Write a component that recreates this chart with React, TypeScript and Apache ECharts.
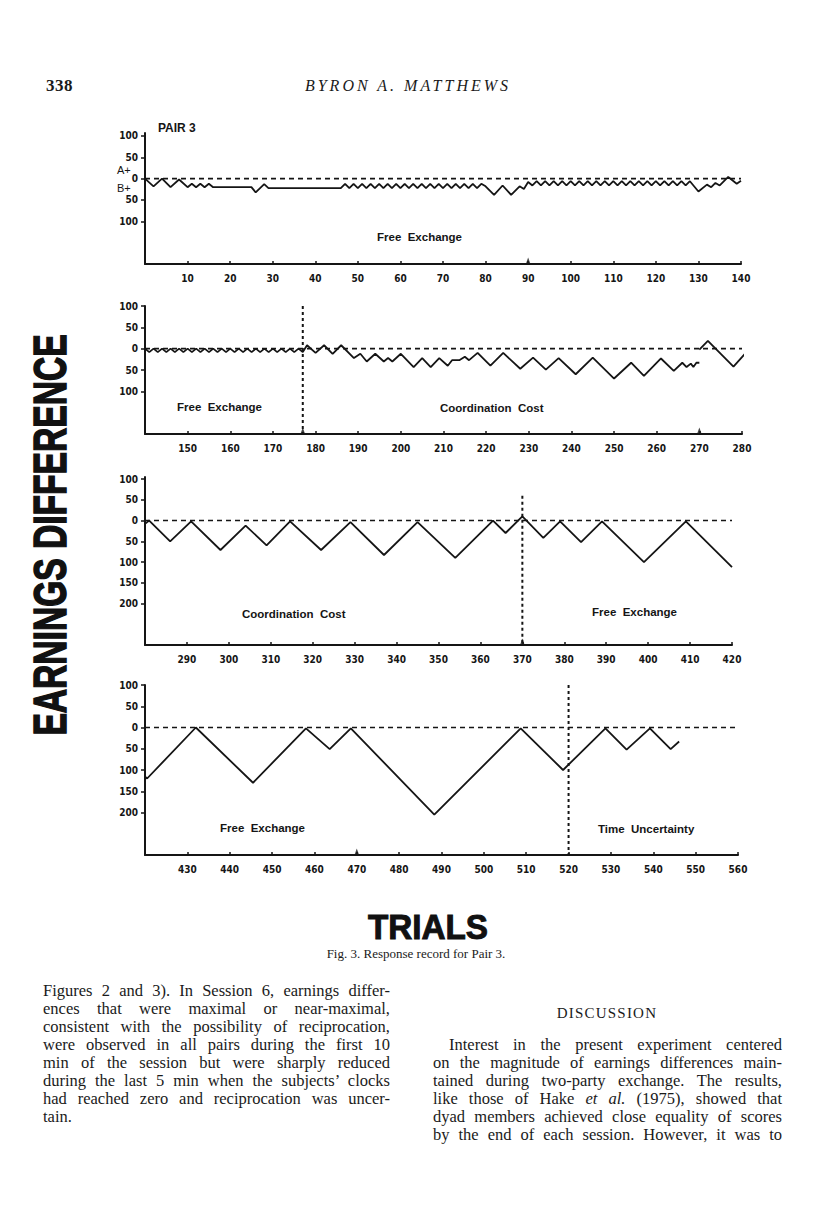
import React, { useEffect, useRef } from "react";
import * as echarts from "echarts";

// ---------- tick labels ----------
const yTicksSmall = [-100, -50, 0, 50, 100];
const yTicksLarge = [-200, -150, -100, -50, 0, 50, 100];
const xTicks1 = [10, 20, 30, 40, 50, 60, 70, 80, 90, 100, 110, 120, 130, 140];
const xTicks2 = [150, 160, 170, 180, 190, 200, 210, 220, 230, 240, 250, 260, 270, 280];
const xTicks3 = [290, 300, 310, 320, 330, 340, 350, 360, 370, 380, 390, 400, 410, 420];
const xTicks4 = [430, 440, 450, 460, 470, 480, 490, 500, 510, 520, 530, 540, 550, 560];

// ---------- earnings difference records (trial, difference; A+ positive, B+ negative) ----------
const trace1: number[][] = [
  [0, 0], [2, -18], [4, 0], [6, -20], [8, -2], [10, -20], [11, -12], [12, -20], [13, -12], [14, -20], [15, -12], [16, -20],
  [25, -20], [26, -32], [28, -13], [29, -22], [46, -22], [47, -12], [48, -22], [49, -12], [50, -22], [51, -12], [52, -22],
  [53, -12], [54, -22], [55, -12], [56, -22], [57, -12], [58, -22], [59, -12], [60, -22], [61, -12], [62, -22], [63, -12],
  [64, -22], [65, -12], [66, -22], [67, -12], [68, -22], [69, -12], [70, -22], [71, -12], [72, -22], [73, -12], [74, -22],
  [75, -12], [76, -22], [77, -12], [78, -22], [79, -12], [80, -18], [82, -38], [84, -16], [86, -38], [88, -18], [89, -24],
  [90, -8], [91, -16], [92, -6], [93, -16], [94, -6], [95, -16], [96, -6], [97, -16], [98, -6], [99, -16], [100, -6],
  [101, -16], [102, -6], [103, -16], [104, -6], [105, -16], [106, -6], [107, -16], [108, -6], [109, -16], [110, -6],
  [111, -16], [112, -6], [113, -16], [114, -6], [115, -16], [116, -6], [117, -16], [118, -6], [119, -16], [120, -6],
  [121, -16], [122, -6], [123, -16], [124, -6], [125, -16], [126, -6], [127, -16], [128, -6], [130, -30], [132, -14],
  [133, -20], [134, -10], [135, -16], [137, 4], [139, -12], [140, -5],
];

const trace2: number[][] = [
  [140, 0], [141, -8], [142, 0], [143, -8], [144, 0], [145, -8], [146, 0], [147, -8], [148, 0], [149, -8], [150, 0],
  [151, -8], [152, 0], [153, -8], [154, 0], [155, -8], [156, 0], [157, -8], [158, 0], [159, -8], [160, 0], [161, -8],
  [162, 0], [163, -8], [164, 0], [165, -8], [166, 0], [167, -8], [168, 0], [169, -8], [170, 0], [171, -8], [172, 0],
  [173, -8], [174, 0], [175, -8], [176, 0], [177, -8], [178, 8], [180, -10], [182, 8], [184, -12], [186, 8], [189, -22],
  [190.5, -12], [192, -30], [194, -12], [196, -30], [197, -22], [198, -30], [200, -12], [203, -43], [205, -22], [207, -43],
  [209, -22], [211, -40], [212, -27], [213.7, -27], [215, -19], [216, -27], [218, -10], [221, -40], [224, -10], [228, -47],
  [231, -21], [234, -49], [237, -22], [241, -60], [245, -21], [250, -70], [254, -33], [257, -64], [261, -23], [264, -52],
  [266, -33], [267, -43], [268, -35], [268.6, -43], [269.3, -33], [270, -33],
];
const trace2End: number[][] = [[270, -2], [272, 18], [278, -42], [280.7, -12]];

const trace3: number[][] = [
  [280, -8], [281, 0], [286, -50], [291, -2], [298, -71], [304, -12], [309, -60], [314.6, -2], [322, -71], [329, -4],
  [337, -83], [345, -4], [354, -90], [363, 0], [366, -30], [370, 10], [375, -42], [379, -2], [384, -52], [389, -2],
  [399, -100], [409, -2], [420, -112],
];

const trace4: number[][] = [
  [419.2, -108], [420.5, -120], [432, 0], [445.5, -130], [458, -2], [463.6, -51], [468.6, -2], [488.3, -205],
  [508.7, -2], [518.7, -100], [528.7, -2], [533.7, -52], [539.2, -2], [544.1, -51], [546.1, -33],
];

// condition changes (trial) and axis arrow marks (trial)
const phaseChanges = [[], [177], [370], [520]];
const phaseTopValues = [0, 100, 60, 100];
const arrowTrials = [[90], [177, 270], [370], [470]];

const AXIS_FONT = '"Liberation Sans Narrow", "DejaVu Sans Condensed", "Liberation Sans", sans-serif';
const LABEL_FONT = 'bold 11.5px "Liberation Sans", Arial, sans-serif';
const INK = "#151515";

const panels = [
  { grid: { left: 145, top: 133, width: 596, height: 131 }, x: [0, 140], y: [-200, 107], xTicks: xTicks1, yTicks: yTicksSmall, traces: [trace1] },
  { grid: { left: 145, top: 306, width: 597, height: 128 }, x: [140, 280], y: [-200, 100], xTicks: xTicks2, yTicks: yTicksSmall, traces: [trace2, trace2End] },
  { grid: { left: 145, top: 477, width: 587, height: 168 }, x: [280, 420], y: [-300, 105], xTicks: xTicks3, yTicks: yTicksLarge, traces: [trace3] },
  { grid: { left: 145, top: 685, width: 593, height: 170 }, x: [420, 560], y: [-300, 100], xTicks: xTicks4, yTicks: yTicksLarge, traces: [trace4] },
];

function buildOption() {
  const series: any[] = [];
  panels.forEach((p, i) => {
    series.push({
      type: "line", xAxisIndex: i, yAxisIndex: i, silent: true, symbol: "none", clip: false,
      data: [[p.x[0], 0], [p.x[1], 0]],
      lineStyle: { color: INK, width: 1.6, type: [5, 4] },
    });
    p.traces.forEach((t) => {
      series.push({
        type: "line", xAxisIndex: i, yAxisIndex: i, silent: true, symbol: "none", clip: false,
        data: t, lineStyle: { color: INK, width: 1.8 },
      });
    });
    phaseChanges[i].forEach((trial) => {
      series.push({
        type: "line", xAxisIndex: i, yAxisIndex: i, silent: true, symbol: "none", clip: false,
        data: [[trial, phaseTopValues[i]], [trial, p.y[0]]],
        lineStyle: { color: INK, width: 2, type: [3, 3] },
      });
    });
    series.push({
      type: "scatter", xAxisIndex: i, yAxisIndex: i, silent: true, clip: false,
      data: arrowTrials[i].map((t) => [t, p.y[0]]),
      symbol: "triangle", symbolSize: [5, 7], symbolOffset: [0, -3],
      itemStyle: { color: INK },
    });
  });

  const textItem = (text: string, x: number, y: number, font = LABEL_FONT) => ({
    type: "text", x, y, silent: true,
    style: { text, fill: INK, font, verticalAlign: "middle", align: "left" },
  });

  return {
    animation: false,
    backgroundColor: "#ffffff",
    grid: panels.map((p) => ({ ...p.grid, containLabel: false })),
    xAxis: panels.map((p, i) => ({
      type: "value", gridIndex: i, min: p.x[0], max: p.x[1],
      axisLine: { show: true, onZero: false, lineStyle: { color: INK, width: 2 } },
      axisTick: { show: true, inside: true, length: 3, customValues: p.xTicks, lineStyle: { color: INK, width: 1.5 } },
      axisLabel: { show: true, customValues: p.xTicks, margin: 9, color: INK, fontSize: 10, fontWeight: "bold", fontFamily: AXIS_FONT },
      splitLine: { show: false },
    })),
    yAxis: panels.map((p, i) => ({
      type: "value", gridIndex: i, min: p.y[0], max: p.y[1],
      axisLine: { show: true, onZero: false, lineStyle: { color: INK, width: 2 } },
      axisTick: { show: true, inside: false, length: 4, customValues: p.yTicks, lineStyle: { color: INK, width: 1.5 } },
      axisLabel: {
        show: true, customValues: p.yTicks, margin: 7, color: INK, fontSize: 10, fontWeight: "bold", fontFamily: AXIS_FONT,
        formatter: (v: number) => String(Math.abs(v)),
      },
      splitLine: { show: false },
    })),
    series,
    graphic: [
      textItem("PAIR 3", 158, 128, 'bold 12px "Liberation Sans", Arial, sans-serif'),
      textItem("A+", 117, 170, '11px "Liberation Sans", Arial, sans-serif'),
      textItem("B+", 117, 188, '11px "Liberation Sans", Arial, sans-serif'),
      textItem("Free  Exchange", 377, 237),
      textItem("Free  Exchange", 177, 407),
      textItem("Coordination  Cost", 440, 408),
      textItem("Coordination  Cost", 242, 614),
      textItem("Free  Exchange", 592, 612),
      textItem("Free  Exchange", 220, 828),
      textItem("Time  Uncertainty", 598, 829),
    ],
  };
}

const serif = '"Liberation Serif", "Times New Roman", serif';

const leftLines = [
  "Figures 2 and 3). In Session 6, earnings differ-",
  "ences that were maximal or near-maximal,",
  "consistent with the possibility of reciprocation,",
  "were observed in all pairs during the first 10",
  "min of the session but were sharply reduced",
  "during the last 5 min when the subjects\u2019 clocks",
  "had reached zero and reciprocation was uncer-",
];
const rightLines = [
  "on the magnitude of earnings differences main-",
  "tained during two-party exchange. The results,",
  "LIKE_HAKE",
  "dyad members achieved close equality of scores",
  "by the end of each session. However, it was to",
];

function JLine({ left, top, width, children, justify = true, indent = 0 }: any) {
  return (
    <div
      style={{
        position: "absolute", left: left + indent, top: top - 9, width: width - indent, height: 18, lineHeight: "18px",
        fontFamily: serif, fontSize: 16.5, color: "#1a1a1a", textAlign: justify ? "justify" : "left",
        textAlignLast: justify ? "justify" : "left", whiteSpace: "nowrap", overflow: "visible",
      } as any}
    >
      {children}
    </div>
  );
}

export default function App() {
  const ref = useRef<HTMLDivElement>(null);
  useEffect(() => {
    if (!ref.current) return;
    const chart = echarts.init(ref.current, null, { renderer: "svg" });
    chart.setOption(buildOption() as any);
    return () => chart.dispose();
  }, []);

  return (
    <div style={{ position: "absolute", left: 0, top: 0, width: 816, height: 1207, background: "#fff", overflow: "hidden" }}>
      <div ref={ref} style={{ position: "absolute", left: 0, top: 0, width: 816, height: 1207 }} />
      <div style={{ position: "absolute", left: 0, top: 0, width: 816, height: 1207, pointerEvents: "none" }}>
        <div style={{ position: "absolute", left: 46, top: 76, fontFamily: serif, fontWeight: 700, fontSize: 17, letterSpacing: 0.5, color: "#1a1a1a", lineHeight: "20px" }}>338</div>
        <div style={{ position: "absolute", left: 408, top: 76, transform: "translateX(-50%)", fontFamily: serif, fontStyle: "italic", fontSize: 16, letterSpacing: 3, color: "#1a1a1a", lineHeight: "20px", whiteSpace: "nowrap" }}>BYRON A. MATTHEWS</div>

        <div style={{
          position: "absolute", left: 50, top: 535, transform: "translate(-50%, -50%) rotate(-90deg) scaleX(0.73)",
          fontFamily: '"Liberation Sans", Arial, sans-serif', fontWeight: 900, fontSize: 46, lineHeight: "40px",
          whiteSpace: "nowrap", color: "#111", WebkitTextStroke: "1.5px #111",
        } as any}>EARNINGS DIFFERENCE</div>

        <div style={{
          position: "absolute", left: 428, top: 927, transform: "translate(-50%, -50%) scaleX(0.95)",
          fontFamily: '"Liberation Sans", Arial, sans-serif', fontWeight: 900, fontSize: 35, lineHeight: "28px",
          whiteSpace: "nowrap", color: "#111", WebkitTextStroke: "1px #111",
        } as any}>TRIALS</div>
        <div style={{ position: "absolute", left: 416, top: 954, transform: "translate(-50%, -50%)", fontFamily: serif, fontSize: 13, lineHeight: "14px", whiteSpace: "nowrap", color: "#1a1a1a" }}>
          Fig. 3. Response record for Pair 3.
        </div>

        {leftLines.map((l, i) => (
          <JLine key={"l" + i} left={43} top={991 + i * 18} width={347}>{l}</JLine>
        ))}
        <JLine left={43} top={991 + 7 * 18} width={347} justify={false}>tain.</JLine>

        <div style={{ position: "absolute", left: 607, top: 1013, transform: "translate(-50%, -50%)", fontFamily: serif, fontSize: 15, letterSpacing: 1.2, whiteSpace: "nowrap", color: "#1a1a1a" }}>DISCUSSION</div>
        <JLine left={433} top={1045} width={349} indent={16}>Interest in the present experiment centered</JLine>
        {rightLines.map((l, i) => (
          <JLine key={"r" + i} left={433} top={1063 + i * 18} width={349}>
            {l === "LIKE_HAKE" ? (<>like those of Hake <i>et al.</i> (1975), showed that</>) : l}
          </JLine>
        ))}
      </div>
    </div>
  );
}
